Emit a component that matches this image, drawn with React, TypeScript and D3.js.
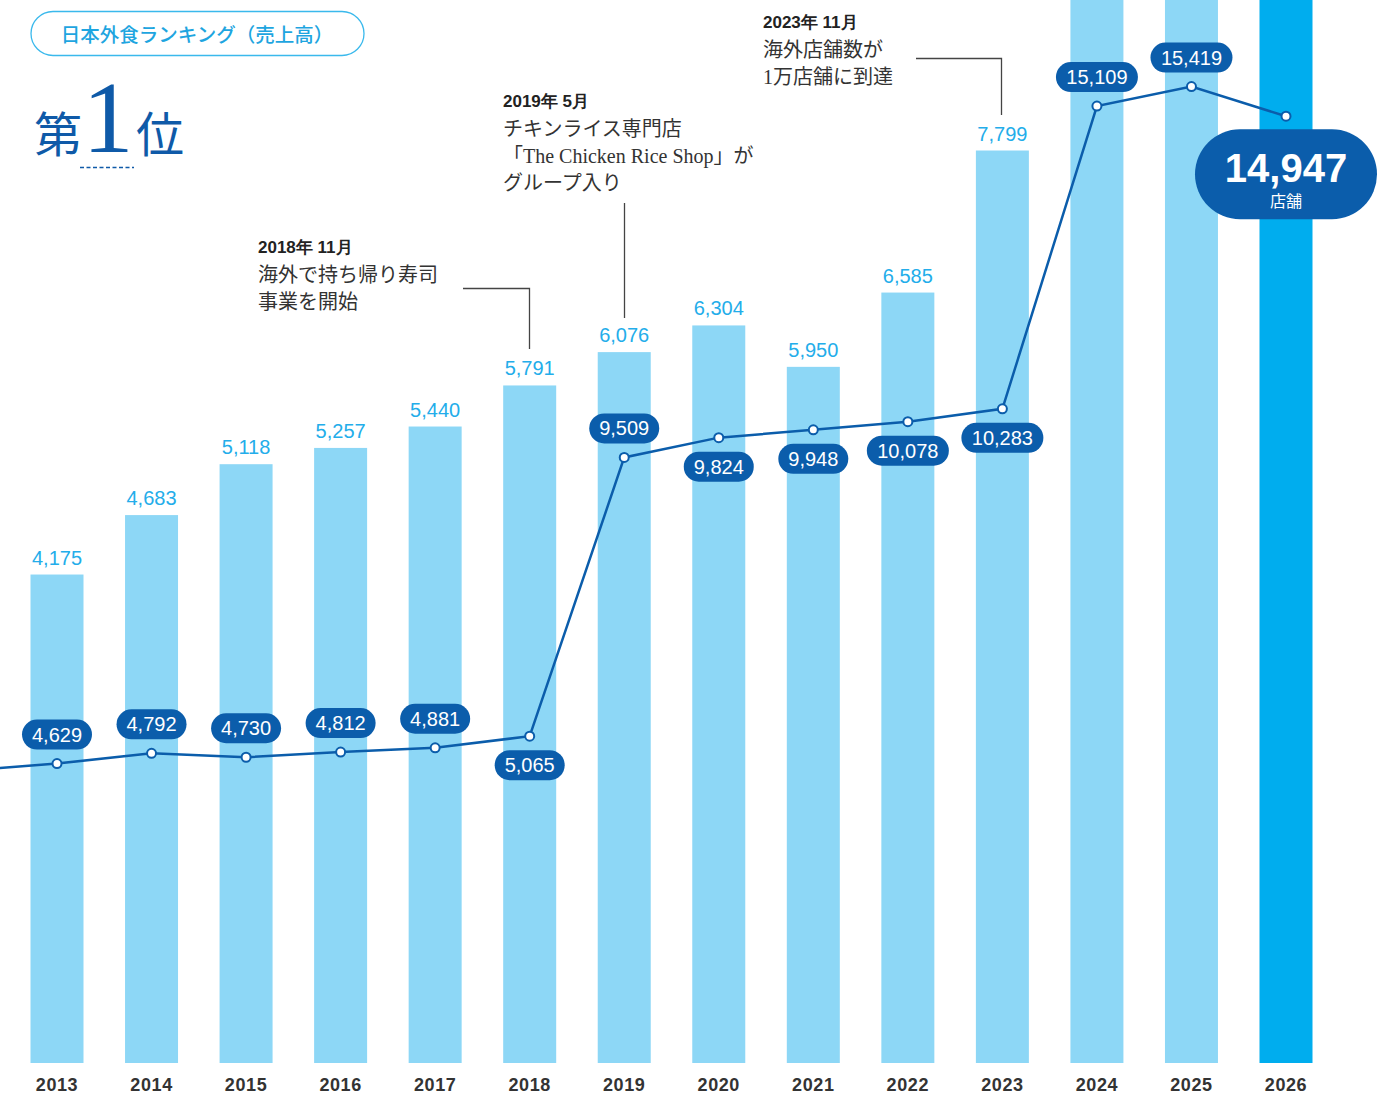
import React from "react";
import * as d3 from "d3";

const years = ["2013","2014","2015","2016","2017","2018","2019","2020","2021","2022","2023","2024","2025","2026"];
// bar series (labelled where visible; 2024-2026 bars run past the top of the frame)
const barValues = [4175, 4683, 5118, 5257, 5440, 5791, 6076, 6304, 5950, 6585, 7799, 9600, 9800, 10000];
const barLabelShown = [true,true,true,true,true,true,true,true,true,true,true,false,false,false];
// line series (store count)
const prevYearValue = 4515; // 2012, only the segment entering from the left is visible
const lineValues = [4629, 4792, 4730, 4812, 4881, 5065, 9509, 9824, 9948, 10078, 10283, 15109, 15419, 14947];
const labelPlacement = ["above","above","above","above","above","below","above","below","below","below","below","above","above","big"];

const W = 1395, H = 1095;
const fmt = d3.format(",");

const notes = [
  { head: "2018年 11月", lines: ["海外で持ち帰り寿司", "事業を開始"], x: 258, y: 253 },
  { head: "2019年 5月", lines: ["チキンライス専門店", "「The Chicken Rice Shop」が", "グループ入り"], x: 503, y: 107 },
  { head: "2023年 11月", lines: ["海外店舗数が", "1万店舗に到達"], x: 763, y: 28 },
];

export default function App() {
  const x = d3.scalePoint<string>().domain(years).range([57, 1286]);
  const step = x.step();
  const barW = 53;
  const yBar = d3.scaleLinear().domain([0, 1000]).range([1063, 946]);
  const yLine = d3.scaleLinear().domain([0, 10000]).range([1054, 426.6]);

  const pts: [number, number][] = [[x(years[0])! - step, yLine(prevYearValue)]].concat(
    lineValues.map((v, i) => [x(years[i])!, yLine(v)] as [number, number])
  ) as [number, number][];
  const linePath = d3.line()(pts) || "";

  const dark = "#0b5dab";
  const lightBar = "#8dd7f6";
  const lastBar = "#00adee";
  const valBlue = "#23adea";
  const sans = "'Liberation Sans', Arial, Helvetica, sans-serif";
  const jp = "'Liberation Serif', 'Noto Sans CJK JP', serif";
  const jpSans = "'Noto Sans CJK JP', sans-serif";

  return (
    <div style={{ position: "absolute", left: 0, top: 0 }}>
      <svg width={W} height={H} viewBox={`0 0 ${W} ${H}`} style={{ display: "block", background: "#fff" }}>
        <defs>
          <clipPath id="clip"><rect x={0} y={0} width={W} height={H} /></clipPath>
        </defs>
        <g clipPath="url(#clip)">
          {/* bars */}
          {years.map((yr, i) => {
            const y0 = Math.max(0, yBar(barValues[i]));
            return (
              <rect key={yr} x={x(yr)! - barW / 2} y={y0} width={barW} height={yBar(0) - y0}
                fill={i === years.length - 1 ? lastBar : lightBar} />
            );
          })}
          {/* bar labels */}
          {years.map((yr, i) => barLabelShown[i] ? (
            <text key={"bl" + yr} x={x(yr)} y={yBar(barValues[i]) - 10} textAnchor="middle"
              fontFamily={sans} fontSize={20} fill={valBlue}>{fmt(barValues[i])}</text>
          ) : null)}
          {/* year labels */}
          {years.map((yr) => (
            <text key={"yr" + yr} x={x(yr)} y={1091} textAnchor="middle" fontFamily={sans}
              fontWeight="bold" fontSize={18} letterSpacing={0.6} fill="#333">{yr}</text>
          ))}

          {/* leader lines */}
          <path d={`M463,288.5H529.5V349`} fill="none" stroke="#444" strokeWidth={1.3} />
          <path d={`M624.5,203V318`} fill="none" stroke="#444" strokeWidth={1.3} />
          <path d={`M916,58.5H1001.5V115`} fill="none" stroke="#444" strokeWidth={1.3} />

          {/* notes */}
          {notes.map((n, k) => (
            <g key={"n" + k}>
              <text x={n.x} y={n.y} fontFamily={sans} fontWeight="bold" fontSize={17} fill="#222">{n.head}</text>
              {n.lines.map((l, j) => (
                <text key={j} x={n.x} y={n.y + 29 + j * 27} fontFamily={jp} fontSize={20} fill="#333">{l}</text>
              ))}
            </g>
          ))}

          {/* line */}
          <path d={linePath} fill="none" stroke={dark} strokeWidth={2.5} />
          {lineValues.map((v, i) => (
            <circle key={"c" + i} cx={x(years[i])} cy={yLine(v)} r={4.5} fill="#fff" stroke={dark} strokeWidth={2} />
          ))}
          {lineValues.map((v, i) => {
            const place = labelPlacement[i];
            const cx = x(years[i])!;
            const cy = yLine(v);
            if (place === "big") {
              const bw = 182, bh = 90;
              return (
                <g key={"pl" + i}>
                  <rect x={cx - bw / 2} y={cy + 13} width={bw} height={bh} rx={45} fill={dark} />
                  <text x={cx} y={cy + 66} textAnchor="middle" fontFamily={sans} fontWeight="bold" fontSize={40} fill="#fff">{fmt(v)}</text>
                  <text x={cx} y={cy + 91} textAnchor="middle" fontFamily={jpSans} fontSize={16} fill="#fff">店舗</text>
                </g>
              );
            }
            const label = fmt(v);
            const pw = 10 + label.length * 12;
            const pc = place === "above" ? cy - 29 : cy + 29;
            return (
              <g key={"pl" + i}>
                <rect x={cx - pw / 2} y={pc - 15} width={pw} height={30} rx={15} fill={dark} />
                <text x={cx} y={pc + 7} textAnchor="middle" fontFamily={sans} fontSize={20} fill="#fff">{label}</text>
              </g>
            );
          })}

          {/* title pill */}
          <rect x={31} y={11.5} width={333} height={44} rx={22} fill="#fff" stroke="#3ab9ec" strokeWidth={1.3} />
          <text x={197} y={42} textAnchor="middle" fontFamily={jpSans} fontWeight={500} fontSize={19.5} fill="#1ea5e0">日本外食ランキング（売上高）</text>

          {/* rank */}
          <text x={34} y={152} fontFamily={jp} fontSize={48} fill="#0f5aa8">第</text>
          <text x={108} y={152} textAnchor="middle" fontFamily="'Liberation Serif', serif" fontSize={102} fill="#0f5aa8">1</text>
          <text x={136} y={152} fontFamily={jp} fontSize={48} fill="#0f5aa8">位</text>
          <line x1={80} x2={134} y1={167.5} y2={167.5} stroke="#0f5aa8" strokeWidth={1.3} strokeDasharray="4 2.5" />
        </g>
      </svg>
    </div>
  );
}
